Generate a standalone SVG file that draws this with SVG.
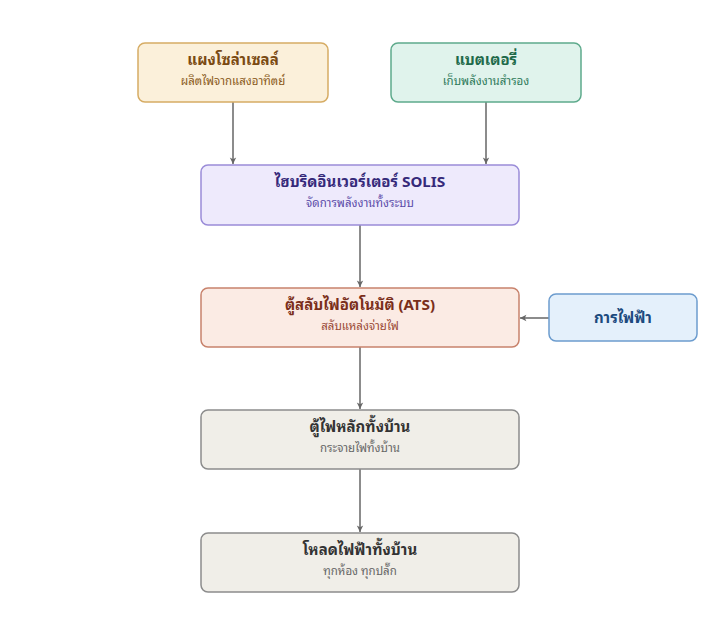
<svg xmlns="http://www.w3.org/2000/svg" width="719" height="635" viewBox="0 0 719 635">
<style>
text{font-family:"Noto Sans Thai Looped","Loma","Garuda","Tlwg Typo","Noto Sans","Noto Sans Thai","DejaVu Sans",sans-serif;text-anchor:middle}
.t{font-size:15px;font-weight:bold}
.s{font-size:11.5px}
.c{stroke:#666;stroke-width:1.5;fill:none;marker-end:url(#ah)}
rect{stroke-width:1.5}
</style>
<defs>
<marker id="ah" viewBox="0 0 10 10" refX="9" refY="5" markerWidth="8" markerHeight="8" orient="auto" markerUnits="userSpaceOnUse">
<path d="M1,1 L9,5 L1,9 L3,5 Z" fill="#666"/>
</marker>
</defs>
<rect width="719" height="635" fill="#ffffff" stroke="none"/>
<g id="connectors">
<line class="c" x1="233" y1="102" x2="233" y2="164"/>
<line class="c" x1="486" y1="102" x2="486" y2="164"/>
<line class="c" x1="360" y1="225" x2="360" y2="287"/>
<line class="c" x1="549" y1="318" x2="520" y2="318"/>
<line class="c" x1="360" y1="347" x2="360" y2="409"/>
<line class="c" x1="360" y1="469" x2="360" y2="532"/>
</g>
<g id="solar">
<rect x="138" y="43" width="190" height="59" rx="7" fill="#fbf0da" stroke="#d6ac64"/>
<text class="t" x="233" y="65" fill="#7a4a12">แผงโซล่าเซลล์</text>
<text class="s" x="233" y="85" fill="#8a5a20">ผลิตไฟจากแสงอาทิตย์</text>
</g>
<g id="battery">
<rect x="391" y="43" width="190" height="59" rx="7" fill="#e0f3ec" stroke="#5eaa8c"/>
<text class="t" x="486" y="65" fill="#1e6a4a">แบตเตอรี่</text>
<text class="s" x="486" y="85" fill="#2e7a5a">เก็บพลังงานสำรอง</text>
</g>
<g id="inverter">
<rect x="201" y="165" width="318" height="60" rx="7" fill="#eeeafc" stroke="#9a8cd8"/>
<text class="t" x="360" y="187" fill="#35297a">ไฮบริดอินเวอร์เตอร์ SOLIS</text>
<text class="s" x="360" y="207" fill="#5a4aa8">จัดการพลังงานทั้งระบบ</text>
</g>
<g id="ats">
<rect x="201" y="288" width="318" height="59" rx="7" fill="#fbebe4" stroke="#c8826c"/>
<text class="t" x="360" y="310" fill="#7a2e1a">ตู้สลับไฟอัตโนมัติ (ATS)</text>
<text class="s" x="360" y="330" fill="#9a4a36">สลับแหล่งจ่ายไฟ</text>
</g>
<g id="grid">
<rect x="549" y="294" width="148" height="47" rx="7" fill="#e4f0fb" stroke="#6c9cce"/>
<text class="t" x="623" y="323" fill="#1c4a7e">การไฟฟ้า</text>
</g>
<g id="mainpanel">
<rect x="201" y="410" width="318" height="59" rx="7" fill="#f0eee8" stroke="#8c8c8c"/>
<text class="t" x="360" y="432" fill="#333333">ตู้ไฟหลักทั้งบ้าน</text>
<text class="s" x="360" y="452" fill="#666666">กระจายไฟทั้งบ้าน</text>
</g>
<g id="load">
<rect x="201" y="533" width="318" height="59" rx="7" fill="#f0eee8" stroke="#8c8c8c"/>
<text class="t" x="360" y="555" fill="#333333">โหลดไฟฟ้าทั้งบ้าน</text>
<text class="s" x="360" y="575" fill="#666666">ทุกห้อง ทุกปลั๊ก</text>
</g>
</svg>
